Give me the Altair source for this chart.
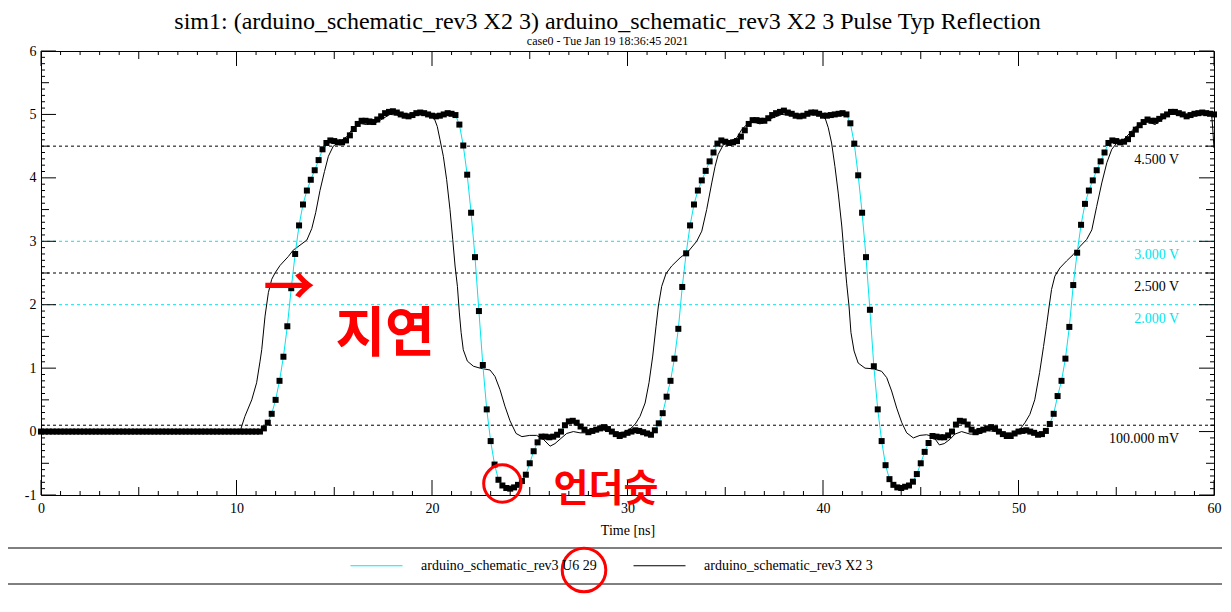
import altair as alt
import pandas as pd

# ---------------- text ----------------
TITLE = "sim1: (arduino_schematic_rev3 X2 3) arduino_schematic_rev3 X2 3 Pulse Typ Reflection"
SUBTITLE = "case0 - Tue Jan 19 18:36:45 2021"
U6_NAME = "arduino_schematic_rev3 U6 29"
X2_NAME = "arduino_schematic_rev3 X2 3"
X_TITLE = "Time [ns]"

# ---------------- data ----------------
# U6 29 waveform, one sample every 0.2 ns from 0 to 60 ns (rows of 2 ns)
u6_step = 0.2
u6_volts = [
    0.0, 0.0, 0.0, 0.0, 0.0, 0.0, 0.0, 0.0, 0.0, 0.0,
    0.0, 0.0, 0.0, 0.0, 0.0, 0.0, 0.0, 0.0, 0.0, 0.0,
    0.0, 0.0, 0.0, 0.0, 0.0, 0.0, 0.0, 0.0, 0.0, 0.0,
    0.0, 0.0, 0.0, 0.0, 0.0, 0.0, 0.0, 0.0, 0.0, 0.0,
    0.0, 0.0, 0.0, 0.0, 0.0, 0.0, 0.0, 0.0, 0.0, 0.0,
    0.0, 0.0, 0.0, 0.0, 0.0, 0.0, 0.0, 0.05, 0.14, 0.28,
    0.50, 0.80, 1.18, 1.66, 2.26, 2.80, 3.25, 3.58, 3.80, 3.97,
    4.12, 4.28, 4.45, 4.55, 4.59, 4.58, 4.56, 4.56, 4.59, 4.67,
    4.77, 4.85, 4.90, 4.90, 4.89, 4.88, 4.92, 4.97, 5.02, 5.04,
    5.05, 5.03, 5.00, 4.98, 4.97, 4.99, 5.02, 5.03, 5.02, 5.00,
    4.98, 4.97, 4.98, 5.00, 5.02, 5.01, 4.99, 4.84, 4.51, 4.05,
    3.45, 2.75, 1.90, 1.05, 0.35, -0.15, -0.52, -0.76, -0.85, -0.89,
    -0.90, -0.88, -0.84, -0.78, -0.68, -0.50, -0.31, -0.17, -0.08, -0.08,
    -0.09, -0.08, -0.05, 0.00, 0.10, 0.16, 0.17, 0.14, 0.08, 0.03,
    -0.01, 0.01, 0.03, 0.05, 0.07, 0.04, 0.00, -0.04, -0.07, -0.05,
    -0.02, 0.00, 0.02, 0.01, -0.01, -0.03, -0.05, 0.02, 0.13, 0.29,
    0.55, 0.80, 1.15, 1.62, 2.28, 2.81, 3.25, 3.58, 3.80, 3.96,
    4.11, 4.26, 4.40, 4.54, 4.59, 4.57, 4.55, 4.56, 4.58, 4.65,
    4.75, 4.85, 4.91, 4.91, 4.90, 4.90, 4.94, 4.99, 5.02, 5.04,
    5.06, 5.03, 5.01, 4.98, 4.97, 4.98, 5.01, 5.03, 5.03, 5.01,
    4.98, 4.98, 4.99, 5.00, 5.01, 5.02, 5.00, 4.86, 4.54, 4.04,
    3.45, 2.75, 1.92, 1.03, 0.35, -0.15, -0.53, -0.75, -0.84, -0.88,
    -0.89, -0.87, -0.85, -0.79, -0.67, -0.50, -0.32, -0.18, -0.07, -0.08,
    -0.09, -0.09, -0.06, 0.00, 0.11, 0.17, 0.16, 0.11, 0.03, -0.01,
    0.01, 0.03, 0.05, 0.07, 0.05, 0.00, -0.04, -0.07, -0.07, -0.03,
    0.00, 0.01, 0.02, 0.00, -0.02, -0.05, -0.04, 0.01, 0.12, 0.28,
    0.56, 0.80, 1.15, 1.65, 2.31, 2.82, 3.26, 3.59, 3.80, 3.96,
    4.12, 4.26, 4.40, 4.55, 4.59, 4.58, 4.56, 4.57, 4.61, 4.69,
    4.76, 4.83, 4.88, 4.92, 4.90, 4.90, 4.93, 4.97, 5.00, 5.04,
    5.04, 5.02, 5.00, 4.97, 4.99, 5.01, 5.02, 5.03, 5.02, 5.01,
    5.00,
]
u6_times = [round(i * u6_step, 1) for i in range(len(u6_volts))]

# X2 3 waveform (continuous trace, read at irregular times)
x2_times = [
    0.0, 10.1, 10.2, 10.43, 10.78, 11.03, 11.2, 11.29, 11.46, 11.63,
    11.8, 11.97, 12.23, 12.65, 12.9, 13.3, 13.6, 13.85, 14.05, 14.27,
    14.5, 14.7, 14.95, 15.3, 15.64, 15.98, 16.23, 16.66, 17.0, 17.3,
    17.85, 18.2, 18.54, 19.0, 19.4, 19.8, 20.1, 20.27, 20.41, 20.58,
    20.75, 20.92, 21.06, 21.18, 21.3, 21.4, 21.49, 21.6, 21.81, 22.12,
    22.46, 22.97, 23.22, 23.48, 23.73, 23.99, 24.3, 24.6, 25.0, 25.35,
    25.69, 26.04, 26.29, 26.55, 26.89, 27.23, 27.57, 27.9, 28.4, 28.7,
    29.1, 29.45, 29.79, 30.13, 30.4, 30.64, 30.9, 31.1, 31.29, 31.46,
    31.58, 31.75, 31.97, 32.26, 32.69, 33.11, 33.54, 33.8, 34.05, 34.31,
    34.48, 34.64, 34.9, 35.24, 35.59, 35.84, 36.1, 36.44, 36.78, 37.3,
    37.89, 38.48, 38.8, 39.3, 39.93, 40.1, 40.27, 40.44, 40.61, 40.78,
    40.96, 41.09, 41.21, 41.33, 41.43, 41.59, 41.8, 42.15, 42.57, 43.0,
    43.26, 43.51, 43.77, 44.03, 44.28, 44.62, 44.96, 45.3, 45.65, 45.95,
    46.2, 46.5, 46.75, 47.09, 47.52, 47.95, 48.37, 48.8, 49.3, 49.65,
    50.06, 50.33, 50.58, 50.83, 51.08, 51.28, 51.43, 51.57, 51.69, 51.86,
    52.12, 52.46, 52.8, 53.15, 53.49, 53.75, 54.0, 54.26, 54.52, 54.77,
    55.03, 55.37, 55.71, 55.97, 56.31, 56.65, 56.99, 57.33, 57.75, 58.26,
    58.69, 59.1, 59.63, 59.88, 59.93, 60.0,
]
x2_volts = [
    0.0, 0.0, 0.02, 0.24, 0.50, 0.77, 1.10, 1.29, 1.82, 2.19,
    2.40, 2.50, 2.62, 2.76, 2.86, 2.95, 3.02, 3.20, 3.45, 3.80,
    4.10, 4.34, 4.50, 4.58, 4.65, 4.79, 4.86, 4.84, 4.85, 4.90,
    5.00, 4.99, 4.96, 4.98, 5.01, 4.99, 4.95, 4.81, 4.60, 4.34,
    3.97, 3.50, 3.03, 2.61, 2.29, 1.87, 1.56, 1.29, 1.11, 1.03,
    1.00, 0.97, 0.87, 0.66, 0.40, 0.17, -0.03, -0.08, -0.06, -0.06,
    -0.12, -0.23, -0.19, -0.12, -0.03, 0.00, -0.02, -0.02, 0.02, 0.03,
    0.00, -0.02, -0.01, 0.04, 0.12, 0.24, 0.45, 0.77, 1.19, 1.66,
    1.98, 2.29, 2.49, 2.61, 2.74, 2.84, 3.00, 3.16, 3.50, 3.92,
    4.18, 4.37, 4.52, 4.58, 4.63, 4.76, 4.84, 4.88, 4.85, 4.93,
    5.00, 4.98, 4.96, 5.00, 4.98, 4.95, 4.79, 4.55, 4.18, 3.76,
    3.24, 2.76, 2.34, 1.98, 1.56, 1.27, 1.08, 1.00, 0.99, 0.95,
    0.85, 0.64, 0.37, 0.14, -0.02, -0.10, -0.06, -0.05, -0.08, -0.21,
    -0.19, -0.12, -0.04, 0.00, -0.04, -0.04, 0.02, 0.00, -0.02, -0.02,
    0.03, 0.14, 0.27, 0.50, 0.93, 1.34, 1.66, 1.98, 2.24, 2.45,
    2.58, 2.69, 2.79, 2.92, 3.03, 3.18, 3.55, 3.92, 4.24, 4.45,
    4.55, 4.60, 4.71, 4.80, 4.87, 4.88, 4.84, 4.92, 5.00, 5.01,
    4.96, 5.00, 5.02, 5.00, 4.80, 4.47,
]

# measurement threshold lines
ref_values = [4.5, 3.0, 2.5, 2.0, 0.1]
ref_labels = ["4.500 V", "3.000 V", "2.500 V", "2.000 V", "100.000 mV"]
CYAN = "#00e5ee"
ref_colors = ["#000000", CYAN, "#000000", CYAN, "#000000"]

# axis tick positions
x_label_values = [0, 10, 20, 30, 40, 50, 60]
x_ticks_major = [0, 10, 20, 30, 40, 50, 60]
x_ticks_mid = [5, 15, 25, 35, 45, 55]
x_ticks_minor = [i for i in range(61) if i % 5 != 0]
y_label_values = [-1, 0, 1, 2, 3, 4, 5, 6]
y_ticks_major = [-1, 0, 1, 2, 3, 4, 5, 6]
y_ticks_mid = [-0.5, 0.5, 1.5, 2.5, 3.5, 4.5, 5.5]
y_ticks_minor = [round(-1 + 0.1 * i, 1) for i in range(71) if i % 5 != 0]

# hand-written red annotations (Korean)
note_texts = ["→", "지연", "언더슛"]
note_t = [12.7, 17.6, 28.9]
note_v = [2.25, 1.5, -0.92]
note_sizes = [52, 54, 38]
circle_t = [23.6]
circle_v = [-0.82]

# ---------------- layout ----------------
W, H = 1173, 444
SERIF = "Liberation Serif"

xs = alt.Scale(domain=[0, 60], nice=False, zero=False)
ys = alt.Scale(domain=[-1, 6], nice=False, zero=False)

u6_df = pd.DataFrame({"t": u6_times, "v": u6_volts, "series": U6_NAME})
x2_df = pd.DataFrame({"t": x2_times, "v": x2_volts, "series": X2_NAME})
lines_df = pd.concat([x2_df, u6_df], ignore_index=True)
ref_df = pd.DataFrame({"v": ref_values, "label": ref_labels, "c": ref_colors})

x_axis = alt.Axis(values=x_label_values, title=X_TITLE, labelFont=SERIF, labelFontSize=14,
                  titleFont=SERIF, titleFontSize=14, titleFontWeight="normal",
                  labelPadding=6, titlePadding=8, domain=False, ticks=False, tickSize=0,
                  grid=False, labelColor="black", titleColor="black", labelFlush=False)
y_axis = alt.Axis(values=y_label_values, title=None, labelFont=SERIF, labelFontSize=14,
                  labelPadding=5, domain=False, ticks=False, tickSize=0, grid=False,
                  labelColor="black", labelExpr="'' + datum.value")


def X(field="t:Q"):
    return alt.X(field, scale=xs, axis=x_axis)


def Y(field="v:Q"):
    return alt.Y(field, scale=ys, axis=y_axis)


layers = []

# threshold lines
layers.append(
    alt.Chart(ref_df).mark_rule(strokeDash=[3, 3], strokeWidth=1).encode(
        y=Y(), color=alt.Color("c:N", scale=None),
    )
)
layers.append(
    alt.Chart(ref_df).mark_text(align="right", baseline="middle", dy=14, font=SERIF, fontSize=14).encode(
        x=alt.value(W - 35), y=Y(), text="label:N", color=alt.Color("c:N", scale=None),
    )
)


def x_ticks(vals, length):
    d = pd.DataFrame({"t": vals})
    bottom = alt.Chart(d).mark_rule(color="black", strokeWidth=1).encode(
        x=X(), y=alt.value(H - length), y2=alt.value(H))
    top = alt.Chart(d).mark_rule(color="black", strokeWidth=1).encode(
        x=X(), y=alt.value(0), y2=alt.value(length))
    return [bottom, top]


def y_ticks(vals, length):
    d = pd.DataFrame({"v": vals})
    left = alt.Chart(d).mark_rule(color="black", strokeWidth=1).encode(
        y=Y(), x=alt.value(0), x2=alt.value(length))
    right = alt.Chart(d).mark_rule(color="black", strokeWidth=1).encode(
        y=Y(), x=alt.value(W - length), x2=alt.value(W))
    return [left, right]


layers += x_ticks(x_ticks_major, 15) + x_ticks(x_ticks_mid, 8) + x_ticks(x_ticks_minor, 4)
layers += y_ticks(y_ticks_major, 15) + y_ticks(y_ticks_mid, 8) + y_ticks(y_ticks_minor, 4)

# waveforms
layers.append(
    alt.Chart(lines_df).mark_line(strokeWidth=1).encode(
        x=X(), y=Y(),
        color=alt.Color(
            "series:N",
            scale=alt.Scale(domain=[U6_NAME, X2_NAME], range=[CYAN, "#000000"]),
            legend=alt.Legend(
                title=None, orient="none", legendX=309, legendY=488, direction="horizontal",
                symbolType="stroke", symbolSize=2704, symbolStrokeWidth=1,
                labelFont=SERIF, labelFontSize=14, labelColor="black", labelOffset=18,
                columnPadding=34, labelLimit=400, padding=0,
            ),
        ),
        detail="series:N",
        order="t:Q",
    )
)
layers.append(
    alt.Chart(u6_df).mark_point(shape="square", filled=True, color="black", size=36, opacity=1).encode(
        x=X(), y=Y(),
    )
)

# legend frame
layers.append(
    alt.Chart(pd.DataFrame({"k": [0]})).mark_rect(fill="white", fillOpacity=0, stroke="black", strokeWidth=1).encode(
        x=alt.value(-39), x2=alt.value(W + 11), y=alt.value(H + 53), y2=alt.value(H + 89))
)

# red annotations
notes_df = pd.DataFrame({"t": note_t, "v": note_v, "txt": note_texts, "s": note_sizes})
layers.append(
    alt.Chart(notes_df).mark_text(color="#ff0000", font="Noto Sans CJK KR", fontWeight="bold",
                                   align="center", baseline="middle").encode(
        x=X(), y=Y(), text="txt:N", size=alt.Size("s:Q", scale=None),
    )
)
layers.append(
    alt.Chart(pd.DataFrame({"t": circle_t, "v": circle_v})).mark_point(
        shape="circle", filled=False, color="#ff0000", strokeWidth=3, size=1400, opacity=1).encode(
        x=X(), y=Y(),
    )
)
layers.append(
    alt.Chart(pd.DataFrame({"k": [0]})).mark_point(
        shape="circle", filled=False, color="#ff0000", strokeWidth=3, size=1900, opacity=1).encode(
        x=alt.value(543), y=alt.value(H + 75))
)

chart = alt.layer(*layers).properties(
    width=W,
    height=H,
    title=alt.Title(TITLE, subtitle=SUBTITLE, font=SERIF, fontSize=24, fontWeight="normal",
                    subtitleFont=SERIF, subtitleFontSize=12, color="black", subtitleColor="black",
                    anchor="middle", dx=-20, dy=6, offset=3, subtitlePadding=2),
    autosize=alt.AutoSizeParams(type="none"),
    padding={"left": 33, "top": 43, "right": 8, "bottom": 103},
    background="white",
).configure_view(stroke="black", strokeWidth=1)

chart.save("out.html", embed_options={"renderer": "svg", "actions": False})
